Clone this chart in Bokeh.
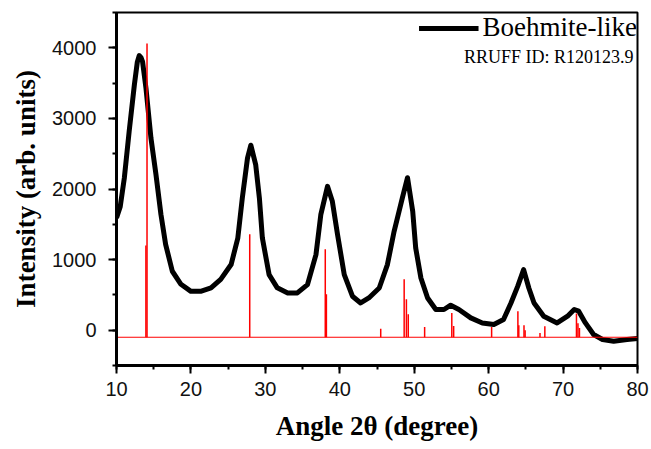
from bokeh.plotting import figure
from bokeh.models import (Range1d, SingleIntervalTicker, Legend, LegendItem, Label,
                          ColumnDataSource)
from bokeh.embed import file_html
from bokeh.resources import INLINE

# ---- measured XRD pattern (Boehmite-like) ----
two_theta = [10.0, 10.5, 11.05, 11.7, 12.4, 12.8, 13.06, 13.3, 13.5, 13.96, 14.63,
             15.3, 15.97, 16.6, 17.5, 18.66, 20.0, 21.3, 22.7, 24.0, 25.4, 26.3,
             26.9, 27.6, 28.05, 28.7, 29.2, 29.6, 30.5, 31.6, 33.0, 34.3, 35.66,
             36.8, 37.45, 38.35, 39.0, 39.7, 40.6, 41.7, 42.8, 43.9, 45.3, 46.4,
             47.3, 48.4, 49.1, 49.8, 50.2, 50.9, 51.8, 52.9, 54.0, 54.9, 56.0,
             57.6, 59.15, 60.7, 62.0, 63.0, 63.9, 64.7, 65.4, 66.1, 67.4, 69.2,
             70.6, 71.5, 72.1, 73.0, 74.1, 75.3, 76.8, 78.6, 80.0]
intensity = [1590, 1750, 2154, 2815, 3475, 3800, 3890, 3860, 3805, 3427, 2720,
             2207, 1640, 1216, 835, 650, 550, 550, 600, 720, 930, 1305,
             1870, 2437, 2620, 2346, 1870, 1305, 788, 600, 528, 528, 646,
             1070, 1636, 2037, 1825, 1353, 788, 481, 386, 457, 598, 929,
             1400, 1870, 2160, 1683, 1164, 740, 457, 293, 293, 354, 293,
             174, 103, 80, 151, 386, 620, 858, 598, 386, 198, 103,
             198, 293, 269, 103, -61, -132, -156, -132, -117]

# ---- RRUFF reference pattern R120123.9 (stick positions / heights) ----
ref_pos = [13.95, 14.1, 27.9, 38.05, 38.2, 45.5, 48.65, 48.95, 49.2, 51.4,
           55.05, 55.3, 60.4, 63.93, 64.05, 64.75, 64.9, 66.9, 67.55, 71.8,
           72.0, 72.2]
ref_height = [1200, 4060, 1360, 1145, 510, 20, 720, 438, 226, 47,
              245, 60, 47, 269, 70, 70, 0, -38, 57, 236,
              100, 30]
ref_baseline = -100
x_limits = [10, 80]
y_limits = [-500, 4500]

serif = "Liberation Serif"
sans = "Liberation Sans"

p = figure(width=650, height=448, output_backend="svg", toolbar_location=None,
           x_range=Range1d(*x_limits), y_range=Range1d(*y_limits),
           min_border_left=116, min_border_right=13, min_border_top=12,
           min_border_bottom=83)
p.grid.visible = False
p.outline_line_color = "black"
p.outline_line_width = 2
p.background_fill_color = "white"
p.border_fill_color = "white"

black = p.line(two_theta, intensity, line_color="black", line_width=5,
               line_join="round")

ref_src = ColumnDataSource(dict(x=ref_pos, y0=[ref_baseline] * len(ref_pos),
                                y1=ref_height))
p.line(x_limits, [ref_baseline, ref_baseline], line_color="#ff0000", line_width=1.2)
p.segment(x0="x", x1="x", y0="y0", y1="y1", source=ref_src,
          line_color="#ff0000", line_width=1.5)

for ax in (p.xaxis[0], p.yaxis[0]):
    ax.axis_line_width = 3
    ax.axis_line_color = "black"
    ax.major_tick_line_width = 2
    ax.minor_tick_line_width = 2
    ax.major_tick_in = 0
    ax.major_tick_out = 8
    ax.minor_tick_in = 0
    ax.minor_tick_out = 4
    ax.major_label_text_font = sans
    ax.major_label_text_font_size = "20px"
    ax.major_label_text_color = "#111111"

p.xaxis.ticker = SingleIntervalTicker(interval=10, num_minor_ticks=2)
p.yaxis.ticker = SingleIntervalTicker(interval=1000, num_minor_ticks=2)
p.xaxis.major_label_standoff = 8
p.yaxis.major_label_standoff = 12

p.yaxis.axis_label = "Intensity (arb. units)"
p.yaxis.axis_label_text_font = serif
p.yaxis.axis_label_text_font_size = "27px"
p.yaxis.axis_label_text_font_style = "bold"
p.yaxis.axis_label_text_color = "black"
p.yaxis.axis_label_standoff = 8

p.xaxis.axis_label = "Angle 2\u03b8 (degree)"
p.xaxis.axis_label_text_font = serif
p.xaxis.axis_label_text_font_size = "27px"
p.xaxis.axis_label_text_font_style = "bold"
p.xaxis.axis_label_text_color = "black"
p.xaxis.axis_label_standoff = 12

legend = Legend(items=[LegendItem(label="Boehmite-like", renderers=[black])],
                location="top_right", margin=0, padding=3, glyph_width=60,
                glyph_height=28, label_standoff=4, label_height=28,
                label_text_font=serif, label_text_font_size="27px",
                label_text_color="black", border_line_color=None,
                background_fill_alpha=0)
p.add_layout(legend)

rruff = Label(x=517, y=309, x_units="screen", y_units="screen",
              text="RRUFF ID: R120123.9", text_font=serif, text_font_size="18px",
              text_align="right", text_baseline="alphabetic", text_color="black")
p.add_layout(rruff)

open("out.html", "w").write(file_html(p, INLINE))
